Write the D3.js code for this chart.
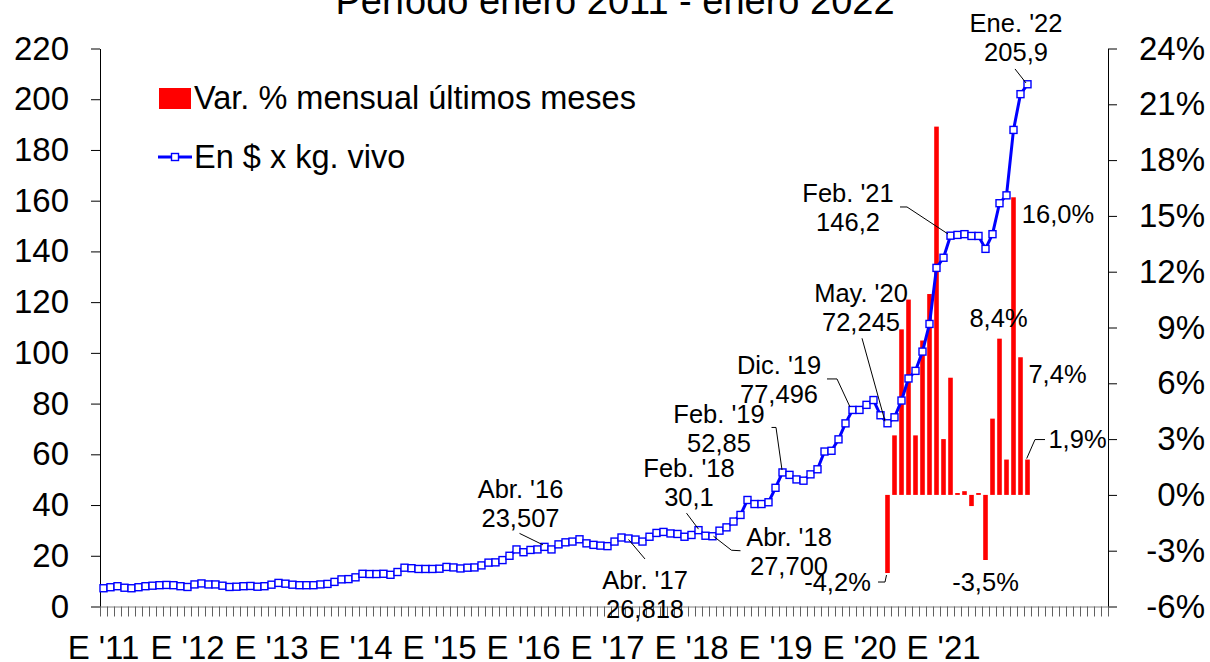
<!DOCTYPE html>
<html>
<head>
<meta charset="utf-8">
<script src="https://cdn.jsdelivr.net/npm/d3@7"></script>
<style>
  body { margin: 0; background: #fff; }
  svg { font-family: Arial, "Liberation Sans", sans-serif; }
</style>
</head>
<body>
<script>
// Precio en $ x kg. vivo, enero 2011 - enero 2022 (mensual)
const price = [
  7.2, 7.6, 8.0, 7.4, 7.2, 7.6, 8.0, 8.2, 8.4, 8.5, 8.4, 8.0,
  7.7, 8.7, 9.1, 8.7, 8.7, 8.2, 7.7, 7.8, 8.0, 8.1, 7.8, 8.0,
  8.6, 9.3, 9.0, 8.6, 8.4, 8.4, 8.4, 8.7, 8.9, 9.7, 10.7, 10.8,
  11.5, 12.9, 12.8, 12.8, 12.9, 12.5, 13.6, 15.3, 15.1, 14.8, 14.8, 14.8,
  14.9, 15.6, 15.4, 15.0, 15.3, 15.4, 16.2, 17.3, 17.4, 18.3, 20.0, 22.5,
  21.4, 22.3, 22.5, 23.507, 22.5, 24.5, 25.3, 25.6, 26.5, 24.9, 24.3, 24.0,
  23.8, 25.6, 27.2, 26.818, 26.4, 25.6, 27.5, 29.0, 29.4, 28.8, 28.6, 27.5,
  28.2, 30.1, 27.9, 27.7, 29.9, 31.2, 33.5, 36.1, 42.0, 40.4, 40.4, 41.1,
  46.8, 52.85, 51.9, 50.1, 49.6, 52.1, 54.1, 61.1, 61.4, 65.9, 72.2, 77.496,
  77.5, 79.5, 81.4, 75.4, 72.245, 74.6, 81.2, 89.9, 92.9, 100.5, 111.4, 133.5,
  137.5, 146.2, 146.5, 146.8, 146.1, 146.1, 141.0, 146.8, 159.0, 162.1, 187.9, 202.0,
  205.9
];

// Var. % mensual, mayo 2020 - enero 2022
const varStart = 112;
const monthlyVar = [
  -4.2, 3.2, 8.9, 10.5, 3.2, 8.3, 10.8, 19.8, 3.0, 6.3,
  0.1, 0.2, -0.6, 0.1, -3.5, 4.1, 8.4, 1.9, 16.0, 7.4, 1.9
];

const yearLabels = ["E '11", "E '12", "E '13", "E '14", "E '15", "E '16",
  "E '17", "E '18", "E '19", "E '20", "E '21"];
const leftTicks = [0, 20, 40, 60, 80, 100, 120, 140, 160, 180, 200, 220];
const rightTicks = [-6, -3, 0, 3, 6, 9, 12, 15, 18, 21, 24];

// callouts on the price line: month index + text
const priceNotes = [
  { i: 63, lines: ["Abr. '16", "23,507"] },
  { i: 75, lines: ["Abr. '17", "26,818"] },
  { i: 85, lines: ["Feb. '18", "30,1"] },
  { i: 87, lines: ["Abr. '18", "27,700"] },
  { i: 97, lines: ["Feb. '19", "52,85"] },
  { i: 107, lines: ["Dic. '19", "77,496"] },
  { i: 112, lines: ["May. '20", "72,245"] },
  { i: 121, lines: ["Feb. '21", "146,2"] },
  { i: 132, lines: ["Ene. '22", "205,9"] }
];
// callouts on the bars
const barNotes = [112, 126, 128, 130, 131, 132];

// layout offsets (relative to the point / bar end)
const priceLayout = {
  63: { tx: -24, ty: -49, lead: [[-25, -13.5], [-1.5, -2]] },
  75: { tx: 16.5, ty: 50.5, lead: [[0, 1], [16.5, 20.5]] },
  85: { tx: -9.5, ty: -53, lead: [[-12, -17], [0, -1]] },
  87: { tx: 76.5, ty: 9.5, lead: [[1, 0], [19, 14], [28, 14.5]] },
  97: { tx: -63.5, ty: -49.5, lead: [[-11, -45], [-6.5, -45], [-0.5, -2.5]] },
  107: { tx: -73.5, ty: -36, lead: [[-25.5, -31], [-15.5, -31], [-2.5, -3]] },
  112: { tx: -26.5, ty: -121, lead: [[-25.5, -85], [-2.5, -2]] },
  121: { tx: -102.5, ty: -33.7, lead: [[-50.5, -28.7], [-43.5, -28.7], [-2.5, -1.7]] },
  132: { tx: -11.5, ty: -52.3, lead: [[-12.5, -15.3], [-1.5, -1.3]] }
};
const barLayout = {
  112: { tx: -50, ty: 18, lead: [[-9.5, 9], [-2.5, 9], [-1, 2]] },
  126: { tx: 0, ty: 31 },
  128: { tx: -1, ty: -11.5 },
  130: { tx: 44.5, ty: 26 },
  131: { tx: 37, ty: 26 },
  132: { tx: 50, ty: -11.4, lead: [[-0.8, -1], [7.5, -20], [17.5, -20]] }
};

const width = 1210;
const height = 662;
const plot = { left: 100, right: 1108, top: 48.5, bottom: 606.5 };
const nCats = 144;

const svg = d3.select("body").append("svg")
  .attr("width", width)
  .attr("height", height);

const x = d3.scaleBand()
  .domain(d3.range(nCats))
  .range([plot.left, plot.right])
  .padding(0);
const xEdge = d3.scaleLinear().domain([0, nCats]).range([plot.left, plot.right]);
const yL = d3.scaleLinear().domain([0, 220]).range([plot.bottom, plot.top]);
const yR = d3.scaleLinear().domain([-6, 24]).range([plot.bottom, plot.top]);
const cx = (i) => x(i) + x.bandwidth() / 2;

// title (mostly cut off at the top)
svg.append("text")
  .attr("x", 615)
  .attr("y", 14)
  .attr("text-anchor", "middle")
  .attr("font-size", 38)
  .text("Período enero 2011 - enero 2022");

// axes
const leftAxis = svg.append("g")
  .attr("transform", `translate(${plot.left},0)`)
  .call(d3.axisLeft(yL).tickValues(leftTicks).tickSize(9).tickSizeOuter(0).tickPadding(22));
leftAxis.selectAll("text").attr("font-size", 33).attr("fill", "#000").attr("font-family", null);

const rightAxis = svg.append("g")
  .attr("transform", `translate(${plot.right},0)`)
  .call(d3.axisRight(yR).tickValues(rightTicks).tickSize(9).tickSizeOuter(0)
    .tickFormat((d) => d + "%"));
rightAxis.selectAll("text")
  .attr("font-size", 33).attr("fill", "#000").attr("font-family", null)
  .attr("text-anchor", "end").attr("x", 97);

const bottomAxis = svg.append("g")
  .attr("transform", `translate(0,${plot.bottom})`)
  .call(d3.axisBottom(xEdge).tickValues(d3.range(nCats + 1)).tickFormat("").tickSize(10).tickSizeOuter(0));
bottomAxis.select(".domain").attr("stroke", "#808080");
bottomAxis.selectAll(".tick line").attr("stroke", "#606060");

[leftAxis, rightAxis].forEach((g) => {
  g.select(".domain").attr("stroke", "#000");
  g.selectAll(".tick line").attr("stroke", "#000");
});

svg.append("g")
  .selectAll("text")
  .data(yearLabels)
  .join("text")
  .attr("x", (d, k) => cx(k * 12))
  .attr("y", 659)
  .attr("text-anchor", "middle")
  .attr("font-size", 33)
  .text((d) => d);

// bars: monthly variation
svg.append("g")
  .selectAll("rect")
  .data(monthlyVar)
  .join("rect")
  .attr("x", (d, k) => cx(varStart + k) - 2.3)
  .attr("width", 4.6)
  .attr("y", (d) => yR(Math.max(0, d)))
  .attr("height", (d) => Math.abs(yR(d) - yR(0)))
  .attr("fill", "#ff0000");

// price line
const line = d3.line()
  .x((d, i) => cx(i))
  .y((d) => yL(d));

svg.append("path")
  .datum(price)
  .attr("fill", "none")
  .attr("stroke", "#0000ff")
  .attr("stroke-width", 3)
  .attr("stroke-linejoin", "round")
  .attr("d", line);

svg.append("g")
  .selectAll("rect")
  .data(price)
  .join("rect")
  .attr("x", (d, i) => cx(i) - 3.5)
  .attr("y", (d) => yL(d) - 3.5)
  .attr("width", 7)
  .attr("height", 7)
  .attr("fill", "#fff")
  .attr("stroke", "#0000ff")
  .attr("stroke-width", 1.4);

// callouts
const notes = svg.append("g").attr("font-size", 25.5);
const leader = d3.line();

priceNotes.forEach((n) => {
  const px = cx(n.i);
  const py = yL(price[n.i]);
  const lay = priceLayout[n.i];
  n.lines.forEach((t, j) => {
    notes.append("text")
      .attr("x", px + lay.tx)
      .attr("y", py + lay.ty + j * 29)
      .attr("text-anchor", "middle")
      .text(t);
  });
  notes.append("path")
    .attr("d", leader(lay.lead.map(([dx, dy]) => [px + dx, py + dy])))
    .attr("fill", "none")
    .attr("stroke", "#000")
    .attr("stroke-width", 1);
});

barNotes.forEach((i) => {
  const v = monthlyVar[i - varStart];
  const px = cx(i);
  const py = yR(v);
  const lay = barLayout[i];
  notes.append("text")
    .attr("x", px + lay.tx)
    .attr("y", py + lay.ty)
    .attr("text-anchor", "middle")
    .text(v.toFixed(1).replace(".", ",") + "%");
  if (lay.lead) {
    notes.append("path")
      .attr("d", leader(lay.lead.map(([dx, dy]) => [px + dx, py + dy])))
      .attr("fill", "none")
      .attr("stroke", "#000")
      .attr("stroke-width", 1);
  }
});

// legend
const legend = svg.append("g").attr("font-size", 32.5);
legend.append("rect")
  .attr("x", 159).attr("y", 88).attr("width", 32).attr("height", 21)
  .attr("fill", "#ff0000");
legend.append("text").attr("x", 194).attr("y", 109).text("Var. % mensual últimos meses");
legend.append("line")
  .attr("x1", 158).attr("x2", 192).attr("y1", 157).attr("y2", 157)
  .attr("stroke", "#0000ff").attr("stroke-width", 3);
legend.append("rect")
  .attr("x", 171.5).attr("y", 153.5).attr("width", 7).attr("height", 7)
  .attr("fill", "#fff").attr("stroke", "#0000ff").attr("stroke-width", 1.4);
legend.append("text").attr("x", 194).attr("y", 168).text("En $ x kg. vivo");
</script>
</body>
</html>
